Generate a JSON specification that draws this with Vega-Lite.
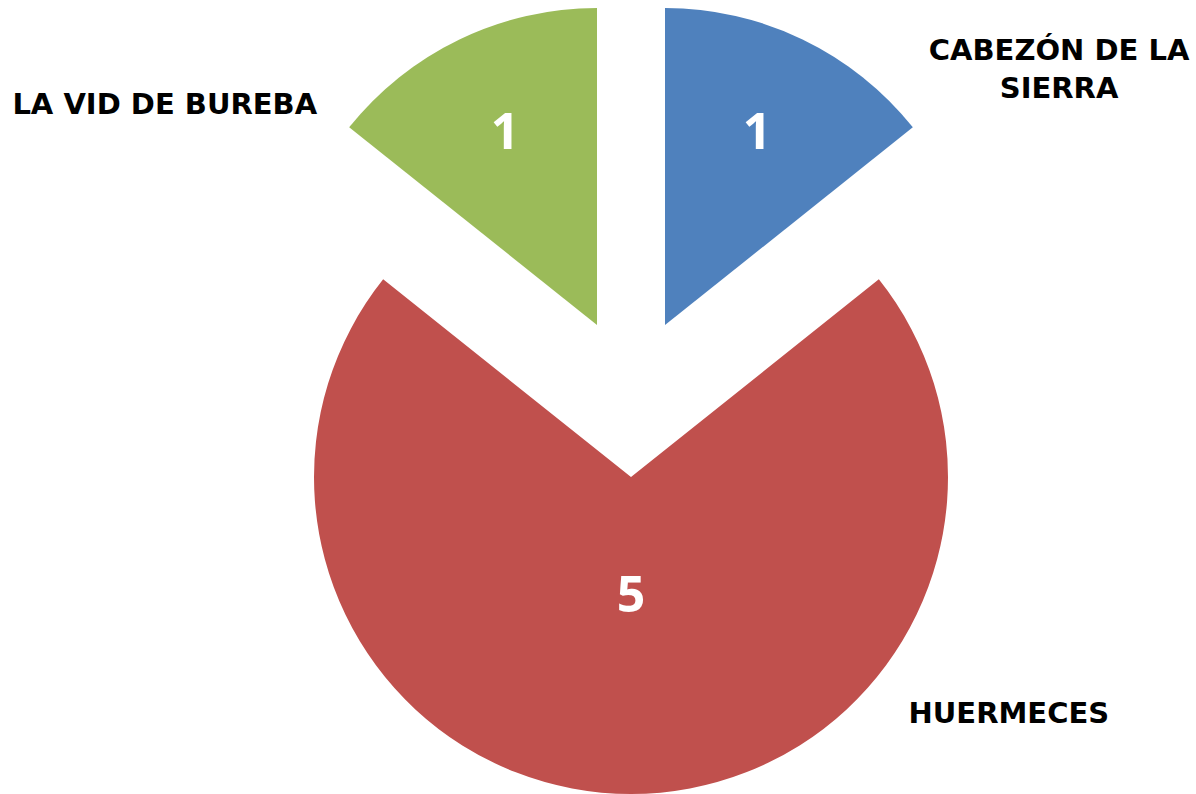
{
  "$schema": "https://vega.github.io/schema/vega-lite/v6.json",
  "width": 1196,
  "height": 794,
  "autosize": {"type": "fit", "contains": "padding"},
  "padding": 0,
  "background": "white",
  "config": {"view": {"stroke": null}},
  "data": {
    "values": [
      {"category": "CABEZÓN DE LA SIERRA", "label": "CABEZÓN DE LA\nSIERRA", "value": 1},
      {"category": "HUERMECES", "label": "HUERMECES", "value": 5},
      {"category": "LA VID DE BUREBA", "label": "LA VID DE BUREBA", "value": 1}
    ]
  },
  "encoding": {
    "x": {
      "field": "category", "type": "nominal",
      "scale": {"type": "point", "domain": ["LA VID DE BUREBA", "HUERMECES", "CABEZÓN DE LA SIERRA"], "range": [597, 665], "padding": 0},
      "axis": null
    },
    "y": {
      "field": "value", "type": "ordinal",
      "scale": {"type": "point", "domain": [1, 5], "range": [325, 477], "padding": 0},
      "axis": null
    }
  },
  "layer": [
    {
      "mark": {"type": "arc", "radius": 317},
      "encoding": {
        "theta": {"field": "value", "type": "quantitative", "stack": true},
        "order": {"field": "category", "type": "ordinal", "sort": "ascending"},
        "color": {
          "field": "category", "type": "nominal",
          "scale": {"domain": ["CABEZÓN DE LA SIERRA", "HUERMECES", "LA VID DE BUREBA"], "range": ["#4F81BD", "#C0504D", "#9BBB59"]},
          "legend": null
        }
      }
    },
    {
      "mark": {"type": "text", "font": "Open Sans", "fontWeight": "bold", "fontSize": 50, "color": "white", "baseline": "middle", "align": "center"},
      "encoding": {
        "theta": {"field": "value", "type": "quantitative", "stack": true},
        "order": {"field": "category", "type": "ordinal", "sort": "ascending"},
        "radius": {"field": "value", "type": "quantitative", "scale": {"type": "linear", "domain": [1, 5], "range": [212, 120], "zero": false}},
        "text": {"field": "value", "type": "quantitative"}
      }
    },
    {
      "transform": [{"filter": "datum.category === 'CABEZÓN DE LA SIERRA'"}],
      "mark": {"type": "text", "font": "DejaVu Sans", "fontWeight": "bold", "fontSize": 29, "color": "black", "baseline": "middle", "align": "center", "lineBreak": "\n", "lineHeight": 38, "radius": 480, "theta": 0.963},
      "encoding": {"text": {"field": "label"}}
    },
    {
      "transform": [{"filter": "datum.category === 'LA VID DE BUREBA'"}],
      "mark": {"type": "text", "font": "DejaVu Sans", "fontWeight": "bold", "fontSize": 29, "color": "black", "baseline": "middle", "align": "center", "radius": 485, "theta": -1.1},
      "encoding": {"text": {"field": "label"}}
    },
    {
      "transform": [{"filter": "datum.category === 'HUERMECES'"}],
      "mark": {"type": "text", "font": "DejaVu Sans", "fontWeight": "bold", "fontSize": 29, "color": "black", "baseline": "middle", "align": "center", "radius": 446, "theta": 2.131},
      "encoding": {"text": {"field": "label"}}
    }
  ]
}
